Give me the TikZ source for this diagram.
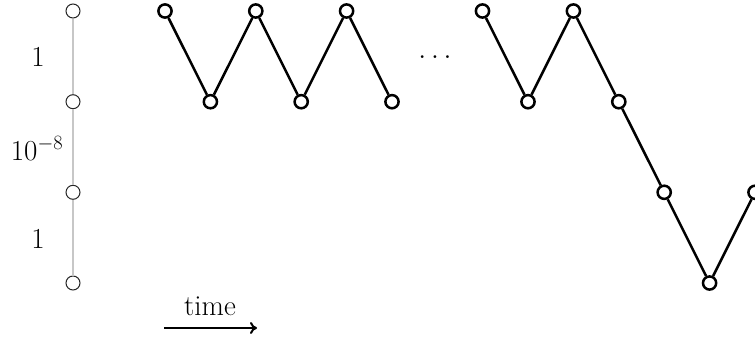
\RequirePackage{fix-cm}
\documentclass[tikz,border=0pt]{standalone}
\usetikzlibrary{arrows.meta}
\begin{document}
\begin{tikzpicture}[x=1pt,y=-1pt,
  dot/.style={circle,draw=black,line width=2.5pt,fill=white,inner sep=0pt,minimum size=13.2pt},
  axdot/.style={circle,draw=black!85,line width=1pt,fill=white,inner sep=0pt,minimum size=14pt},
  link/.style={line width=2.5pt},
  axlink/.style={draw=black!22,line width=1.6pt},
  lbl/.style={font=\fontsize{29}{35}\selectfont,anchor=base,inner sep=0pt}]
\useasboundingbox (0,0) rectangle (755,340);
% axis
\node[axdot] (a0) at (73,11) {};
\node[axdot] (a1) at (73,101.7) {};
\node[axdot] (a2) at (73,192.3) {};
\node[axdot] (a3) at (73,283) {};
\draw[axlink] (a0) -- (a1) -- (a2) -- (a3);
\node[lbl] (l1) at (38,66) {$1$};
\node[lbl] (l2) at (37,160) {$10^{-8}$};
\node[lbl] (l3) at (38,248) {$1$};
% first part
\node[dot] (p1) at (165,11) {};
\node[dot] (p2) at (210.4,101.7) {};
\node[dot] (p3) at (255.8,11) {};
\node[dot] (p4) at (301.2,101.7) {};
\node[dot] (p5) at (346.6,11) {};
\node[dot] (p6) at (392,101.7) {};
\draw[link] (p1) -- (p2) -- (p3) -- (p4) -- (p5) -- (p6);
\node[lbl] (dots) at (435,58) {$\ldots$};
% second part
\node[dot] (q1) at (482.5,11) {};
\node[dot] (q2) at (528,101.7) {};
\node[dot] (q3) at (573.4,11) {};
\node[dot] (q4) at (618.8,101.7) {};
\node[dot] (q5) at (664.2,192.3) {};
\node[dot] (q6) at (709.6,283) {};
\node[dot] (q7) at (755,192.3) {};
\draw[link] (q1) -- (q2) -- (q3) -- (q4) -- (q5) -- (q6) -- (q7);
% time arrow
\coordinate (t0) at (164,328);
\coordinate (t1) at (257,328);
\draw[line width=2pt,-{To[length=7pt,width=12pt]}] (t0) -- (t1);
\node[lbl] (time) at (210,315) {time};
\end{tikzpicture}
\end{document}
